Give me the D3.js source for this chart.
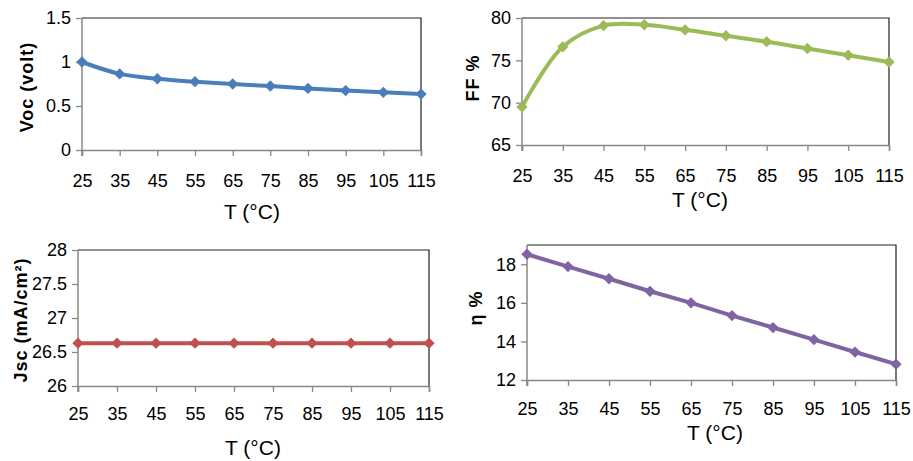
<!DOCTYPE html>
<html>
<head>
<meta charset="utf-8">
<script src="https://cdn.jsdelivr.net/npm/d3@7"></script>
<style>
  body { margin: 0; background: #fff; }
  text { font-family: "Liberation Sans Narrow", "Liberation Sans", Arial, sans-serif; fill: #000; }
</style>
</head>
<body>
<svg id="chart" width="913" height="461"></svg>
<script>
// temperatures (°C)
var temps = [25, 35, 45, 55, 65, 75, 85, 95, 105, 115];

// series
var voc = [1.0, 0.865, 0.81, 0.776, 0.75, 0.727, 0.70, 0.675, 0.655, 0.635];
var ff  = [69.5, 76.6, 79.1, 79.2, 78.6, 77.9, 77.2, 76.4, 75.6, 74.8];
var jsc = [26.63, 26.63, 26.63, 26.63, 26.63, 26.63, 26.63, 26.63, 26.63, 26.63];
var eta = [18.52, 17.88, 17.25, 16.6, 16.0, 15.34, 14.72, 14.09, 13.45, 12.82];

// y tick labels
var vocTicks = [0, 0.5, 1, 1.5];
var ffTicks  = [65, 70, 75, 80];
var jscTicks = [26, 26.5, 27, 27.5, 28];
var etaTicks = [12, 14, 16, 18];

var svg = d3.select("#chart");

// layout of each panel (pixels)
var panels = [
  {vals: voc, ticks: vocTicks, dom: [0, 1.5], color: "#4a7ebb", smooth: true,
   l: 82, r: 421, t: 18, b: 150, labY: 180, title: [252, 219], ylab: [27, 87], ytext: "Voc (volt)"},
  {vals: ff, ticks: ffTicks, dom: [65, 80], color: "#9bbb59", smooth: true,
   l: 522, r: 889, t: 18, b: 145, labY: 175, title: [700, 207], ylab: [473, 78], ytext: "FF %"},
  {vals: jsc, ticks: jscTicks, dom: [26, 28], color: "#c0504d", smooth: false,
   l: 78, r: 429, t: 250, b: 386, labY: 413, title: [253, 455], ylab: [21, 320], ytext: "Jsc (mA/cm\u00b2)"},
  {vals: eta, ticks: etaTicks, dom: [12, 19], color: "#8064a2", smooth: false,
   l: 527, r: 896, t: 245, b: 380, labY: 408, title: [715, 440], ylab: [476, 308], ytext: "\u03b7 %"}
];

var diamond = d3.symbol().type(d3.symbolSquare).size(64);

panels.forEach(function(p) {
  var x = d3.scaleLinear().domain([25, 115]).range([p.l, p.r]);
  var y = d3.scaleLinear().domain(p.dom).range([p.b, p.t]);
  var g = svg.append("g");

  // frame: top and right dark
  g.append("path")
      .attr("d", "M" + p.l + "," + p.t + "H" + p.r + "V" + p.b)
      .attr("fill", "none")
      .attr("stroke", "#222")
      .attr("stroke-width", 1.2);

  var yAxis = g.append("g")
      .attr("transform", "translate(" + p.l + ",0)")
      .call(d3.axisLeft(y).tickValues(p.ticks).tickSize(6).tickPadding(5).tickFormat(d3.format("")));
  var xAxis = g.append("g")
      .attr("transform", "translate(0," + p.b + ")")
      .call(d3.axisBottom(x).tickValues(temps).tickSize(6).tickPadding(p.labY - p.b - 12).tickFormat(d3.format("d")));

  [xAxis, yAxis].forEach(function(a) {
    a.select(".domain").attr("stroke", "#888").attr("stroke-width", 1.5);
    a.selectAll(".tick line").attr("stroke", "#888").attr("stroke-width", 1.3);
    a.selectAll("text").attr("font-size", 18).attr("fill", "#000")
      .style("font-family", '"Liberation Sans Narrow", "Liberation Sans", Arial, sans-serif');
  });
  yAxis.select(".domain").remove();
  g.append("line").attr("x1", p.l).attr("x2", p.l).attr("y1", p.t).attr("y2", p.b + 6)
      .attr("stroke", "#888").attr("stroke-width", 1.5);

  var pts = temps.map(function(t, i) { return [t, p.vals[i]]; });
  var line = d3.line()
      .x(function(d) { return x(d[0]); })
      .y(function(d) { return y(d[1]); })
      .curve(p.smooth ? d3.curveCatmullRom.alpha(0.5) : d3.curveLinear);

  g.append("path")
      .datum(pts)
      .attr("d", line)
      .attr("fill", "none")
      .attr("stroke", p.color)
      .attr("stroke-width", 4)
      .attr("stroke-linejoin", "round");

  g.selectAll(".mk")
      .data(pts)
      .enter().append("path")
        .attr("class", "mk")
        .attr("d", diamond)
        .attr("transform", function(d) { return "translate(" + x(d[0]) + "," + y(d[1]) + ") rotate(45)"; })
        .attr("fill", p.color);

  g.append("text")
      .attr("x", p.title[0])
      .attr("y", p.title[1])
      .attr("text-anchor", "middle")
      .attr("font-size", 21)
      .text("T (\u00b0C)");

  g.append("text")
      .attr("transform", "translate(" + p.ylab[0] + "," + p.ylab[1] + ") rotate(-90)")
      .attr("text-anchor", "middle")
      .attr("dy", "0.35em")
      .attr("font-size", 18)
      .attr("font-weight", "bold")
      .attr("letter-spacing", 1)
      .text(p.ytext);
});
</script>
</body>
</html>
